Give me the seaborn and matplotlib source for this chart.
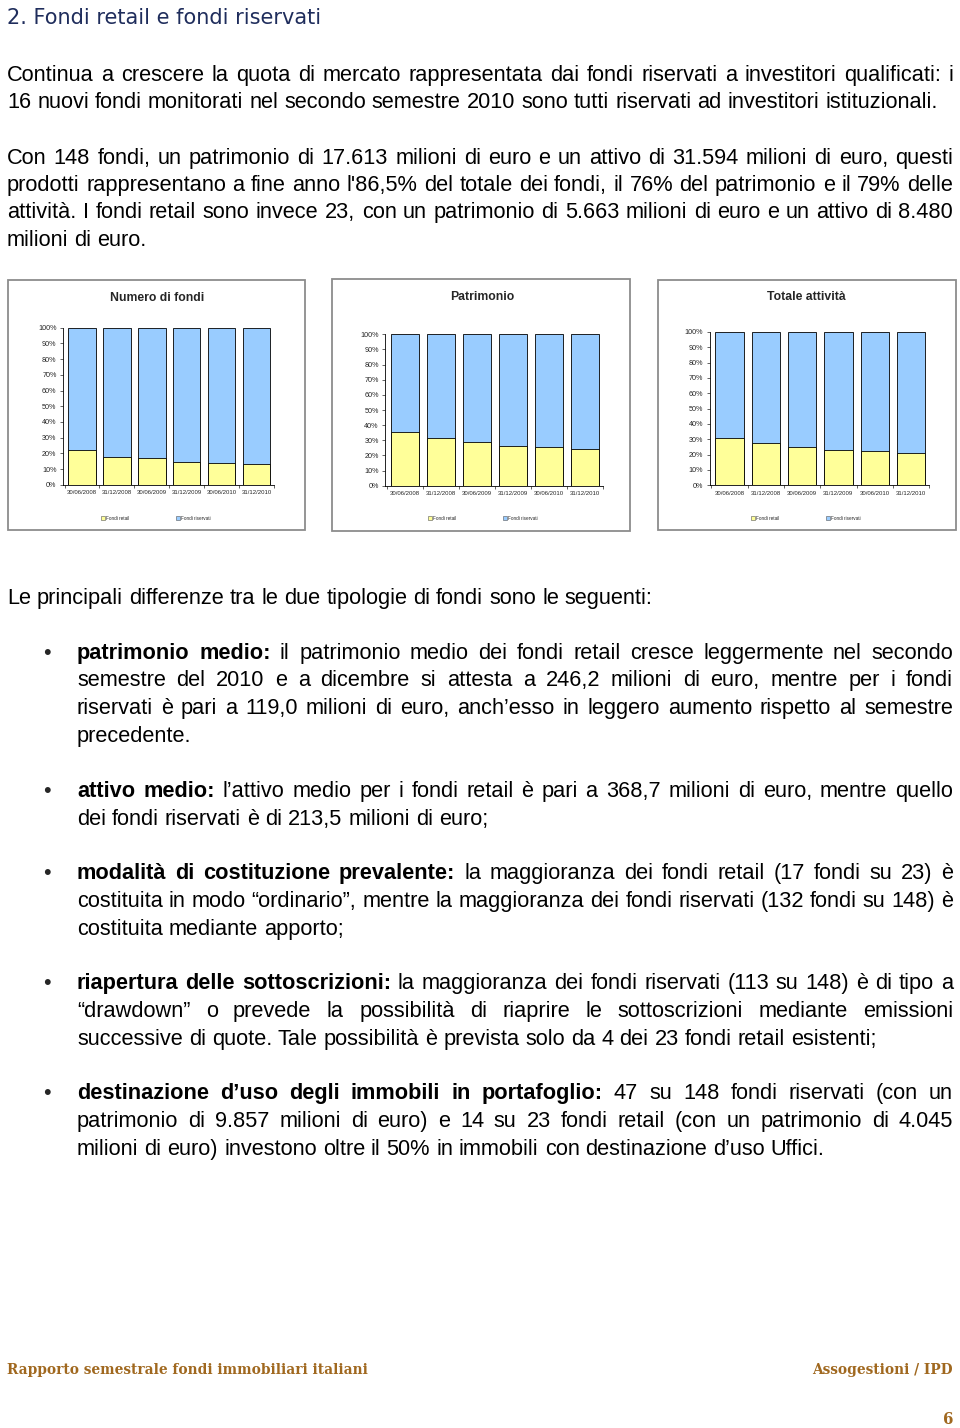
import numpy as np
import pandas as pd
import matplotlib.pyplot as plt
from matplotlib.patches import Rectangle, Patch
import seaborn as sns

# chart data (% share)
dates = ['30/06/2008', '31/12/2008', '30/06/2009', '31/12/2009', '30/06/2010', '31/12/2010']
num_retail = [22.3, 17.8, 16.8, 14.6, 14.0, 13.4]
pat_retail = [35.7, 31.7, 28.6, 26.0, 25.3, 24.4]
att_retail = [30.9, 27.4, 25.0, 22.8, 22.4, 21.3]
chart_titles = ['Numero di fondi', 'Patrimonio', 'Totale attività']
series_names = ['Fondi retail', 'Fondi riservati']

BLUE = '#99CCFF'
YELLOW = '#FFFF99'
BODY = ['Liberation Sans', 'DejaVu Sans']

sns.set_style('white')
plt.rcParams['font.family'] = BODY

W, H = 960, 1428
fig = plt.figure(figsize=(W / 100, H / 100), dpi=100)
renderer = fig.canvas.get_renderer()


def fx(x):
    return x / W


def fy(y):
    return 1 - y / H


def measure(s, size, weight='normal', family=BODY):
    t = fig.text(0, 0, s, fontsize=size, fontweight=weight, family=family)
    w = t.get_window_extent(renderer).width
    t.remove()
    return w


FS = 15.65
SPACE = measure('a a', FS) - measure('aa', FS)


def put_line(x0, x1, yb, parts, justify=True):
    words = []
    for txt, wt in parts:
        for w in txt.split():
            words.append((w, wt))
    widths = [measure(w, FS, wt) for w, wt in words]
    if justify and len(words) > 1:
        gap = (x1 - x0 - sum(widths)) / (len(words) - 1)
    else:
        gap = SPACE
    x = x0
    for (w, wt), wd in zip(words, widths):
        fig.text(fx(x), fy(yb), w, fontsize=FS, fontweight=wt, va='baseline', ha='left', color='black')
        x += wd + gap


# heading
fig.text(fx(7), fy(24), '2. Fondi retail e fondi riservati', fontsize=15, color='#1f2d5c',
         family=['DejaVu Sans'], va='baseline')

# opening paragraphs
N = 'normal'
B = 'bold'
paras = [
    (81, 'Continua a crescere la quota di mercato rappresentata dai fondi riservati a investitori qualificati: i', True),
    (108, '16 nuovi fondi monitorati nel secondo semestre 2010 sono tutti riservati ad investitori istituzionali.', False),
    (164, 'Con 148 fondi, un patrimonio di 17.613 milioni di euro e un attivo di 31.594 milioni di euro, questi', True),
    (191, "prodotti rappresentano a fine anno l'86,5% del totale dei fondi, il 76% del patrimonio e il 79% delle", True),
    (218, 'attività. I fondi retail sono invece 23, con un patrimonio di 5.663 milioni di euro e un attivo di 8.480', True),
    (246, 'milioni di euro.', False),
    (604, 'Le principali differenze tra le due tipologie di fondi sono le seguenti:', False),
]
for yb, txt, j in paras:
    put_line(7, 953, yb, [(txt, N)], j)

# bullet list
bullets = [
    [(659, [('patrimonio medio:', B), ('il patrimonio medio dei fondi retail cresce leggermente nel secondo', N)], True),
     (686, [('semestre del 2010 e a dicembre si attesta a 246,2 milioni di euro, mentre per i fondi', N)], True),
     (714, [('riservati è pari a 119,0 milioni di euro, anch’esso in leggero aumento rispetto al semestre', N)], True),
     (742, [('precedente.', N)], False)],
    [(797, [('attivo medio:', B), ('l’attivo medio per i fondi retail è pari a 368,7 milioni di euro, mentre quello', N)], True),
     (825, [('dei fondi riservati è di 213,5 milioni di euro;', N)], False)],
    [(879, [('modalità di costituzione prevalente:', B), ('la maggioranza dei fondi retail (17 fondi su 23) è', N)], True),
     (907, [('costituita in modo “ordinario”, mentre la maggioranza dei fondi riservati (132 fondi su 148) è', N)], True),
     (935, [('costituita mediante apporto;', N)], False)],
    [(989, [('riapertura delle sottoscrizioni:', B), ('la maggioranza dei fondi riservati (113 su 148) è di tipo a', N)], True),
     (1017, [('“drawdown” o prevede la possibilità di riaprire le sottoscrizioni mediante emissioni', N)], True),
     (1045, [('successive di quote. Tale possibilità è prevista solo da 4 dei 23 fondi retail esistenti;', N)], False)],
    [(1099, [('destinazione d’uso degli immobili in portafoglio:', B), ('47 su 148 fondi riservati (con un', N)], True),
     (1127, [('patrimonio di 9.857 milioni di euro) e 14 su 23 fondi retail (con un patrimonio di 4.045', N)], True),
     (1155, [('milioni di euro) investono oltre il 50% in immobili con destinazione d’uso Uffici.', N)], False)],
]
for item in bullets:
    fig.text(fx(47), fy(item[0][0]), '•', fontsize=FS, ha='center', va='baseline')
    for yb, parts, j in item:
        put_line(77, 953, yb, parts, j)

# footer
GOLD = '#a0681f'
FOOT = ['DejaVu Serif']
fig.text(fx(7), fy(1374), 'Rapporto semestrale fondi immobiliari italiani', fontsize=11, fontweight='bold',
         fontstretch='condensed', color=GOLD, family=FOOT, va='baseline')
fig.text(fx(953), fy(1374), 'Assogestioni / IPD', fontsize=11, fontweight='bold', fontstretch='condensed',
         color=GOLD, family=FOOT, va='baseline', ha='right')
fig.text(fx(953), fy(1424), '6', fontsize=12, fontweight='bold', fontstretch='condensed', color=GOLD,
         family=FOOT, va='baseline', ha='right')

# three stacked 100% bar charts
boxes = [(8, 280, 305, 530), (332, 279, 630, 531), (658, 280, 956, 530)]
axes_px = [(62.8, 327.7, 274.2, 484.7), (384.9, 334.3, 603.0, 485.7), (709.5, 332.0, 929.2, 485.3)]
title_pos = [(157, 301), (482, 300), (806, 300)]
legend_pos = [(156, 518), (483, 518), (806, 518)]
shares = [num_retail, pat_retail, att_retail]

for i in range(3):
    bx0, by0, bx1, by1 = boxes[i]
    fig.add_artist(Rectangle((fx(bx0), fy(by1)), (bx1 - bx0) / W, (by1 - by0) / H,
                             transform=fig.transFigure, fill=False, edgecolor='#8c8c8c', lw=1.3))
    x0, y0, x1, y1 = axes_px[i]
    ax = fig.add_axes([fx(x0), fy(y1), (x1 - x0) / W, (y1 - y0) / H])
    df = pd.DataFrame({'data': dates, 'retail': shares[i]})
    df['riservati'] = 100 - df['retail']
    df['totale'] = df['retail'] + df['riservati']
    sns.barplot(data=df, x='data', y='totale', color=BLUE, saturation=1, width=0.78,
                edgecolor='black', linewidth=0.6, ax=ax)
    sns.barplot(data=df, x='data', y='retail', color=YELLOW, saturation=1, width=0.78,
                edgecolor='black', linewidth=0.6, ax=ax)
    ax.set_xlim(-0.55, 5.5)
    ax.set_ylim(0, 100)
    ax.set_yticks(range(0, 101, 10))
    ax.set_yticklabels([f'{v}%' for v in range(0, 101, 10)])
    ax.set_xticks(np.arange(-0.5, 6, 1), minor=True)
    ax.tick_params(axis='y', length=2.5, width=0.5, labelsize=5.2, pad=2, left=True)
    ax.tick_params(axis='x', which='major', length=0, labelsize=4.3, pad=4)
    ax.tick_params(axis='x', which='minor', length=2, width=0.5, bottom=True)
    ax.set_xlabel('')
    ax.set_ylabel('')
    for s in ['top', 'right']:
        ax.spines[s].set_visible(False)
    for s in ['left', 'bottom']:
        ax.spines[s].set_linewidth(0.6)
        ax.spines[s].set_color('black')
    tx, ty = title_pos[i]
    fig.text(fx(tx), fy(ty), chart_titles[i], fontsize=8.8, fontweight='bold', ha='center', va='baseline')
    handles = [Patch(facecolor=YELLOW, edgecolor='#555555', lw=0.4),
               Patch(facecolor=BLUE, edgecolor='#555555', lw=0.4)]
    lx, ly = legend_pos[i]
    ax.legend(handles, series_names, ncol=2, loc='center', bbox_to_anchor=(fx(lx), fy(ly)),
              bbox_transform=fig.transFigure, frameon=False, fontsize=3.3, handlelength=0.8,
              handleheight=0.8, handletextpad=0.3, columnspacing=10.2)

fig.savefig('out.png', dpi=100)
